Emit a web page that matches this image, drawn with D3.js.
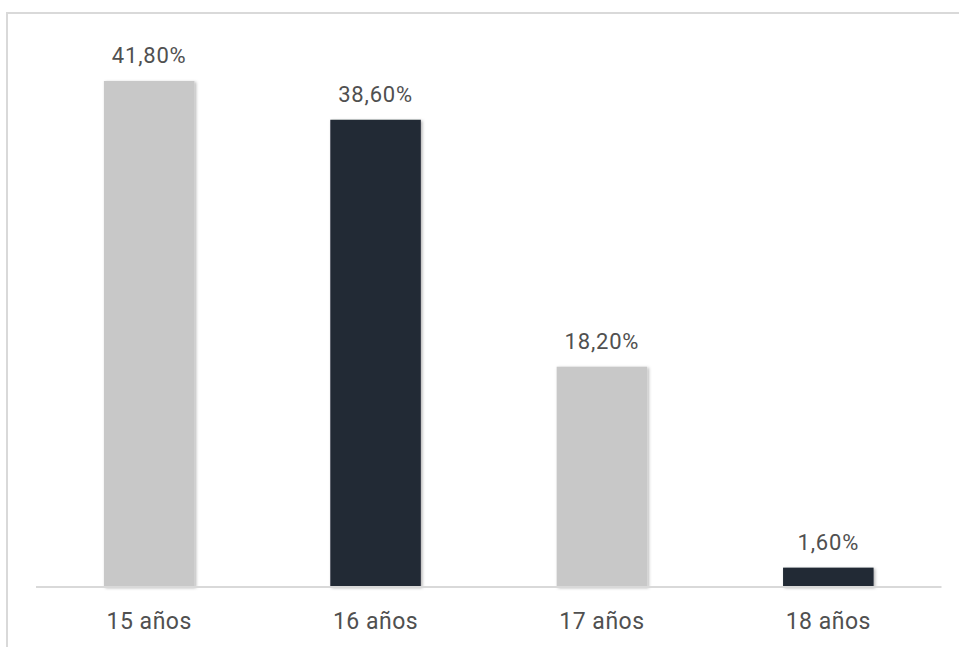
<!DOCTYPE html>
<html><head><meta charset="utf-8">
<script src="https://cdn.jsdelivr.net/npm/d3@7"></script>
<style>html,body{margin:0;padding:0;background:#fff;overflow:hidden}</style>
</head><body>
<svg id="c" width="959" height="647"></svg>
<script>
const categories = ["15 años", "16 años", "17 años", "18 años"];
const values = [41.8, 38.6, 18.2, 1.6];
const labels = ["41,80%", "38,60%", "18,20%", "1,60%"];
const colors = ["#c8c8c8", "#232a36", "#c8c8c8", "#232a36"];

const svg = d3.select("#c");
const defs = svg.append("defs");
const f = defs.append("filter").attr("id","sh").attr("x","-10%").attr("y","-10%").attr("width","130%").attr("height","130%");
f.append("feDropShadow").attr("dx",1.5).attr("dy",1).attr("stdDeviation",1.5).attr("flood-color","#000").attr("flood-opacity",0.3);

// frame
svg.append("rect").attr("x",7).attr("y",13).attr("width",960).attr("height",700)
  .attr("fill","none").attr("stroke","#d9d9d9").attr("stroke-width",2);

const x = d3.scaleBand().domain(categories).range([36, 941.5]).paddingInner(0.6).paddingOuter(0.3);
const y = d3.scaleLinear().domain([0, 41.8]).range([587, 81]);

svg.append("g").selectAll("rect").data(values).join("rect")
  .attr("x",(d,i)=>x(categories[i])).attr("width",x.bandwidth())
  .attr("y",d=>y(d)).attr("height",d=>y(0)-y(d))
  .attr("fill",(d,i)=>colors[i]).attr("filter","url(#sh)");

svg.append("line").attr("x1",36).attr("x2",941.5).attr("y1",y(0)).attr("y2",y(0))
  .attr("stroke","#d9d9d9").attr("stroke-width",2);

svg.append("g").selectAll("text").data(values).join("text")
  .attr("x",(d,i)=>x(categories[i])+x.bandwidth()/2).attr("y",d=>y(d)-18)
  .attr("text-anchor","middle").attr("font-family","Roboto, sans-serif").attr("font-size",22)
  .attr("letter-spacing","0.8px")
  .attr("fill","#505050").text((d,i)=>labels[i]);

const ax = svg.append("g").attr("transform",`translate(0,${y(0)})`)
  .call(d3.axisBottom(x).tickSize(0).tickPadding(26));
ax.select(".domain").remove();
ax.selectAll("text").attr("font-family","Roboto, sans-serif").attr("font-size",23)
  .attr("letter-spacing","0.5px").attr("fill","#505050");
</script>
</body></html>
